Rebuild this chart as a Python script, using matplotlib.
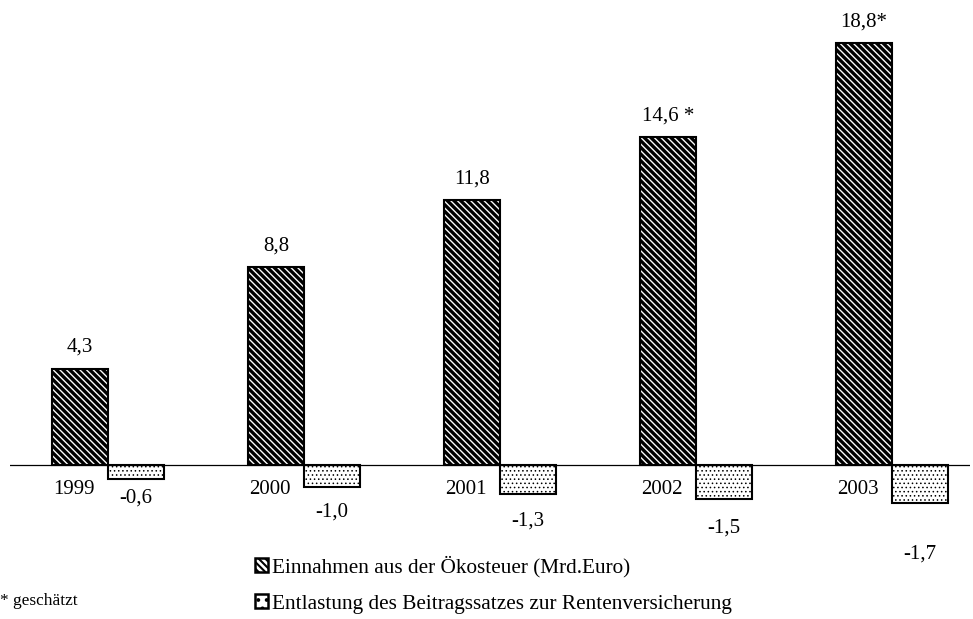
import numpy as np
import matplotlib.pyplot as plt
from matplotlib.patches import Patch

plt.rcParams['font.family'] = ['Liberation Serif', 'DejaVu Serif']

# data
years = ['1999', '2000', '2001', '2002', '2003']
oekosteuer = [4.3, 8.8, 11.8, 14.6, 18.8]
entlastung = [-0.6, -1.0, -1.3, -1.5, -1.7]
top_labels = ['4,3', '8,8', '11,8', '14,6 *', '18,8*']
bottom_labels = ['-0,6', '-1,0', '-1,3', '-1,5', '-1,7']
bottom_gap = [0.85, 1.1, 1.2, 1.3, 2.25]  # label distance below bar (units)

fig = plt.figure(figsize=(9.73, 6.19), dpi=100)
ax = fig.add_axes([10 / 973, 59 / 619, 960 / 973, 550 / 619])

x = np.arange(len(years))
w = 56 / 196
diag = '\\' * 5
dots = '....'

bars1 = ax.bar(x - w / 2, oekosteuer, w, facecolor='white', edgecolor='black',
               hatch=diag, linewidth=1.5)
bars2 = ax.bar(x + w / 2, entlastung, w, facecolor='white', edgecolor='black',
               hatch=dots, linewidth=1.5)
for b in bars1:
    b.set_hatch_linewidth(2.4)
for b in bars2:
    b.set_hatch_linewidth(0.6)

ax.axhline(0, color='black', linewidth=0.9)

fs = 15
for i in range(len(years)):
    ax.text(x[i] - w / 2, oekosteuer[i] + 0.95, top_labels[i],
            ha='center', va='center', fontsize=fs)
    ax.text(x[i] + w / 2, entlastung[i] - bottom_gap[i], bottom_labels[i],
            ha='center', va='center', fontsize=fs)
    ax.text(x[i] - w / 2 - 0.03, -1.1, years[i], ha='center', va='center',
            fontsize=fs)

ax.set_xlim(-0.5, 4 + 78 / 196)
ax.set_ylim(-4.23, 20.27)
ax.axis('off')

h1 = Patch(facecolor='white', edgecolor='black', hatch='\\' * 5, linewidth=1.8)
h2 = Patch(facecolor='white', edgecolor='black', hatch='..', linewidth=1.8)
labels = ['Einnahmen aus der Ökosteuer (Mrd.Euro)',
          'Entlastung des Beitragssatzes zur Rentenversicherung']
leg = fig.legend([h1, h2], labels, loc='upper left',
                 bbox_to_anchor=(246 / 973, 1 - 547 / 619), frameon=False,
                 fontsize=15.3, handlelength=0.65, handleheight=0.65,
                 handletextpad=0.15, labelspacing=0.8, borderaxespad=0)
for p in leg.get_patches():
    p.set_hatch_linewidth(1.5)

fig.text(0 / 973, 1 - 601 / 619, '* geschätzt', fontsize=12.4, va='center')

fig.savefig('out.png', dpi=100)
